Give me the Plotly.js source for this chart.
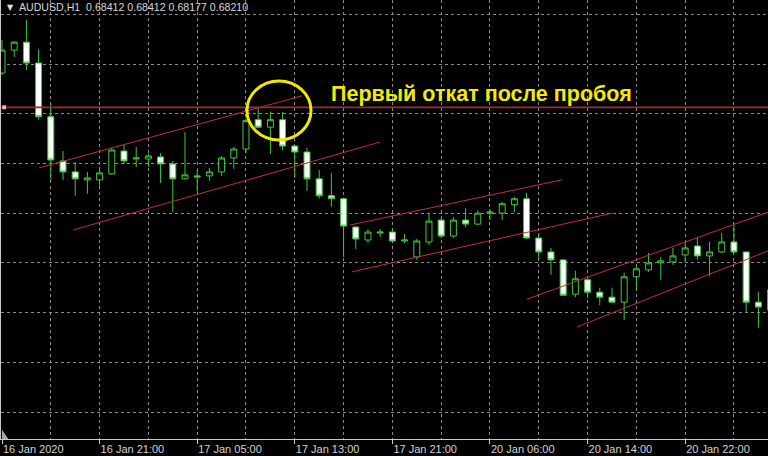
<!DOCTYPE html>
<html>
<head>
<meta charset="utf-8">
<script src="https://cdn.plot.ly/plotly-3.0.1.min.js"></script>
<style>html,body{margin:0;padding:0;background:#000;}#chart{width:768px;height:456px;}</style>
</head>
<body>
<div id="chart"></div>
<script>
// ---- data ----
const barIndex = [];
for (let i = 0; i < 64; i++) barIndex.push(i);

const openP = [0.69282,0.69328,0.69344,0.69302,0.69194,0.69105,0.69083,0.69067,0.69067,0.69079,
  0.69125,0.69109,0.69109,0.69113,0.69099,0.69069,0.69075,0.69075,0.69083,0.69111,
  0.69129,0.69188,0.69173,0.69188,0.69135,0.69123,0.69069,0.69035,0.69029,0.68972,
  0.68946,0.68960,0.68962,0.68944,0.68912,0.68942,0.68986,0.68954,0.68986,0.68978,
  0.69000,0.69000,0.69017,0.69029,0.68950,0.68922,0.68906,0.68837,0.68866,0.68841,
  0.68831,0.68821,0.68872,0.68886,0.68900,0.68902,0.68916,0.68934,0.68914,0.68922,
  0.68942,0.68922,0.68821,0.68805];
const highP = [0.69348,0.69346,0.69389,0.69330,0.69220,0.69125,0.69103,0.69083,0.69093,0.69131,
  0.69137,0.69133,0.69119,0.69121,0.69105,0.69163,0.69087,0.69091,0.69115,0.69133,
  0.69190,0.69212,0.69204,0.69204,0.69137,0.69131,0.69087,0.69081,0.69031,0.68974,
  0.68968,0.68968,0.68970,0.68958,0.68948,0.69000,0.68990,0.68992,0.69010,0.69006,
  0.69008,0.69023,0.69033,0.69041,0.68960,0.68930,0.68908,0.68884,0.68870,0.68850,
  0.68850,0.68880,0.68896,0.68920,0.68912,0.68930,0.68940,0.68952,0.68942,0.68960,
  0.68980,0.68922,0.68841,0.68856];
const lowP = [0.69278,0.69314,0.69288,0.69188,0.69067,0.69067,0.69035,0.69039,0.69055,0.69077,
  0.69099,0.69093,0.69093,0.69061,0.69002,0.69067,0.69043,0.69065,0.69075,0.69089,
  0.69121,0.69171,0.69119,0.69127,0.69071,0.69045,0.69029,0.69013,0.68912,0.68928,
  0.68940,0.68952,0.68942,0.68940,0.68906,0.68936,0.68950,0.68950,0.68972,0.68976,
  0.68986,0.68986,0.69002,0.68948,0.68906,0.68876,0.68833,0.68831,0.68829,0.68815,
  0.68819,0.68785,0.68846,0.68882,0.68866,0.68896,0.68900,0.68906,0.68874,0.68920,
  0.68920,0.68801,0.68769,0.68801];
const closeP = [0.69328,0.69344,0.69302,0.69194,0.69107,0.69083,0.69069,0.69071,0.69081,0.69127,
  0.69105,0.69111,0.69115,0.69099,0.69069,0.69077,0.69073,0.69083,0.69111,0.69129,
  0.69186,0.69173,0.69188,0.69135,0.69123,0.69069,0.69035,0.69029,0.68974,0.68948,
  0.68962,0.68962,0.68944,0.68946,0.68944,0.68984,0.68954,0.68986,0.68978,0.69000,
  0.69002,0.69019,0.69029,0.68950,0.68922,0.68906,0.68835,0.68868,0.68841,0.68831,
  0.68821,0.68872,0.68888,0.68900,0.68904,0.68914,0.68930,0.68914,0.68922,0.68942,
  0.68922,0.68821,0.68811,0.68846];

const tickIdx = [0, 8, 16, 24, 32, 40, 48, 56];
const tickLabels = ['16 Jan 2020','16 Jan 21:00','17 Jan 05:00','17 Jan 13:00',
                    '17 Jan 21:00','20 Jan 06:00','20 Jan 14:00','20 Jan 22:00'];

const levelPrice = 0.69213;
// trend channels: [x0, y0, x1, y1] in bar index / price
const trendLines = [
  [3.03, 0.69091, 24.59, 0.69236],
  [5.82, 0.68966, 30.98, 0.69143],
  [28.52, 0.68976, 45.90, 0.69067],
  [28.69, 0.68882, 50.00, 0.69000],
  [43.03, 0.68827, 62.79, 0.69002],
  [47.13, 0.68771, 62.79, 0.68924]
];
const headerSymbol = 'AUDUSD,H1';
const headerOHLC = ['0.68412', '0.68412', '0.68177', '0.68210'];
const noteText = 'Первый откат после пробоя';

// ---- chart ----
const GREEN = '#3ec83e';
const GRID = '#8c8c8c';
const traces = [{
  type: 'candlestick',
  x: barIndex, open: openP, high: highP, low: lowP, close: closeP,
  increasing: {line: {color: GREEN, width: 1}, fillcolor: '#000000'},
  decreasing: {line: {color: GREEN, width: 1}, fillcolor: '#ffffff'},
  whiskerwidth: 0,
  hoverinfo: 'skip'
}];
trendLines.forEach(function (t) {
  traces.push({
    type: 'scatter', mode: 'lines',
    x: [t[0], t[2]], y: [t[1], t[3]],
    line: {color: '#c0303a', width: 1},
    hoverinfo: 'skip'
  });
});

const layout = {
  width: 768, height: 456,
  paper_bgcolor: '#000000', plot_bgcolor: '#000000',
  margin: {l: 1, r: 0, t: 0, b: 17, pad: 0},
  showlegend: false,
  xaxis: {
    range: [-0.082, 62.79],
    rangeslider: {visible: false},
    tickmode: 'array', tickvals: tickIdx, ticktext: tickLabels,
    ticklabelposition: 'outside right',
    ticks: 'outside', ticklen: 4, tickcolor: '#c8c8c8',
    tickfont: {family: 'Liberation Sans, Arial, sans-serif', size: 11, color: '#d4d4d4'},
    showgrid: true, gridcolor: GRID, griddash: 'dot', gridwidth: 1,
    minor: {tickmode: 'linear', tick0: 0, dtick: 4, showgrid: true, gridcolor: GRID, griddash: 'dot', gridwidth: 1, ticks: ''},
    showline: true, linecolor: '#c8c8c8', linewidth: 1,
    zeroline: false, fixedrange: true
  },
  yaxis: {
    range: [0.685457, 0.694288],
    tickmode: 'linear', tick0: 0.686, dtick: 0.001,
    showticklabels: false, ticks: '',
    showgrid: true, gridcolor: GRID, griddash: 'dot', gridwidth: 1,
    showline: true, linecolor: '#c8c8c8', linewidth: 1,
    zeroline: false, fixedrange: true
  },
  shapes: [
    {type: 'line', xref: 'paper', yref: 'y', x0: 0, x1: 1, y0: levelPrice, y1: levelPrice,
     line: {color: '#a02c2c', width: 1.8}, layer: 'above'},
    {type: 'rect', xref: 'paper', yref: 'y', x0: 0.0015, x1: 0.0065,
     y0: levelPrice - 0.00004, y1: levelPrice + 0.00004,
     fillcolor: '#ffb0b0', line: {width: 0}, layer: 'above'},
    {type: 'circle', xref: 'x', yref: 'y', x0: 20.08, x1: 25.33, y0: 0.69147, y1: 0.69266,
     line: {color: '#f0e800', width: 3}, layer: 'above'},
    {type: 'path', xref: 'paper', yref: 'paper',
     path: 'M 0.0013 0.021 L 0.0013 0 L 0.0095 0 Z',
     fillcolor: '#a8a8a8', line: {width: 0}, layer: 'above'}
  ],
  annotations: [
    {xref: 'paper', yref: 'paper', x: 0.0055, y: 0.984, xanchor: 'left', yanchor: 'middle',
     text: '▼', showarrow: false,
     font: {family: 'DejaVu Sans, sans-serif', size: 8, color: '#e0e0e0'}},
    {xref: 'paper', yref: 'paper', x: 0.021, y: 0.984, xanchor: 'left', yanchor: 'middle',
     text: headerSymbol + '  ' + headerOHLC.join(' '), showarrow: false,
     font: {family: 'Liberation Sans, Arial, sans-serif', size: 10.6, color: '#d8d8d8'}},
    {xref: 'paper', yref: 'paper', x: 0.428, y: 0.786, xanchor: 'left', yanchor: 'middle',
     text: '<b>' + noteText + '</b>', showarrow: false,
     font: {family: 'Liberation Sans, Arial, sans-serif', size: 21.5, color: '#f2ea00'}}
  ]
};

Plotly.newPlot('chart', traces, layout, {staticPlot: true, displayModeBar: false});
</script>
</body>
</html>
